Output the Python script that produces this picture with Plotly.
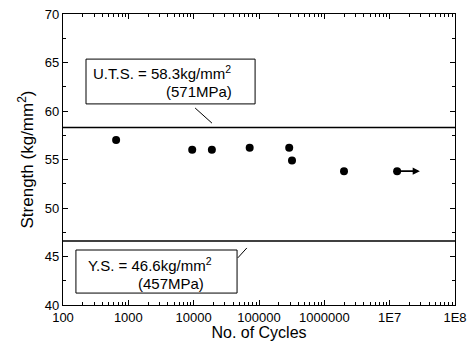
import plotly.graph_objects as go
import numpy as np

cycles = [650, 9500, 19000, 72000, 290000, 320000, 2000000, 13000000]
strength = [57.0, 56.0, 56.0, 56.2, 56.2, 54.9, 53.8, 53.8]
runout_end = 2.9e7
uts = 58.3
ys = 46.6
tick_vals = [100, 1000, 10000, 100000, 1000000, 1e7, 1e8]
tick_text = ["100", "1000", "10000", "100000", "1000000", "1E7", "1E8"]

FONT = "Liberation Sans, Arial, sans-serif"

fig = go.Figure()
fig.add_trace(go.Scatter(x=cycles, y=strength, mode="markers",
                         marker=dict(color="black", size=8), showlegend=False))

fig.add_hline(y=uts, line=dict(color="black", width=1.3))
fig.add_hline(y=ys, line=dict(color="black", width=1.3))

# run-out arrow
fig.add_annotation(x=np.log10(runout_end), y=strength[-1], ax=np.log10(cycles[-1]), ay=strength[-1],
                   xref="x", yref="y", axref="x", ayref="y", text="", showarrow=True,
                   arrowhead=2, arrowsize=0.8, arrowwidth=1.8, arrowcolor="black")

# boxes
fig.add_shape(type="rect", xref="paper", yref="paper", x0=0.0587, x1=0.490, y0=0.691, y1=0.845,
              line=dict(color="black", width=1), fillcolor="white")
fig.add_shape(type="rect", xref="paper", yref="paper", x0=0.033, x1=0.444, y0=0.041, y1=0.189,
              line=dict(color="black", width=1), fillcolor="white")
# leader lines
fig.add_shape(type="line", xref="paper", yref="paper", x0=0.337, y0=0.677, x1=0.380, y1=0.625,
              line=dict(color="black", width=1))
fig.add_shape(type="line", xref="paper", yref="paper", x0=0.446, y0=0.162, x1=0.469, y1=0.196,
              line=dict(color="black", width=1))

tf = dict(family=FONT, size=15, color="black")
fig.add_annotation(xref="paper", yref="paper", x=0.072, y=0.799, xanchor="left", yanchor="middle",
                   text="U.T.S. = 58.3kg/mm<sup>2</sup>", showarrow=False, font=tf)
fig.add_annotation(xref="paper", yref="paper", x=0.258, y=0.733, xanchor="left", yanchor="middle",
                   text="(571MPa)", showarrow=False, font=tf)
fig.add_annotation(xref="paper", yref="paper", x=0.058, y=0.139, xanchor="left", yanchor="middle",
                   text="Y.S. = 46.6kg/mm<sup>2</sup>", showarrow=False, font=tf)
fig.add_annotation(xref="paper", yref="paper", x=0.186, y=0.073, xanchor="left", yanchor="middle",
                   text="(457MPa)", showarrow=False, font=tf)

axis_common = dict(showline=True, linecolor="black", linewidth=1.2, mirror="allticks",
                   ticks="inside", tickcolor="black", ticklen=5, showgrid=False, zeroline=False,
                   ticklabeloverflow="allow",
                   tickfont=dict(family=FONT, size=13, color="black"))

fig.update_xaxes(type="log", range=[2, 8], tickvals=tick_vals, ticktext=tick_text,
                 minor=dict(ticks="inside", ticklen=3, tickcolor="black", dtick="D1", showgrid=False),
                 title=dict(text="No. of Cycles", font=dict(family=FONT, size=16, color="black"), standoff=7),
                 **axis_common)
fig.update_yaxes(range=[40, 70], dtick=5, tick0=40,
                 minor=dict(ticks="inside", ticklen=3, tickcolor="black", dtick=2.5, showgrid=False),
                 title=dict(text="Strength (kg/mm<sup>2</sup>)", font=dict(family=FONT, size=17, color="black"), standoff=6),
                 **axis_common)

# page body has an 8px margin on every side; size the figure so the page fits the window
fig.update_layout(width=459, height=333, margin=dict(l=55, r=12, t=6, b=36, autoexpand=False),
                  plot_bgcolor="white", paper_bgcolor="white", font=dict(family=FONT))

fig.write_html("out.html")
